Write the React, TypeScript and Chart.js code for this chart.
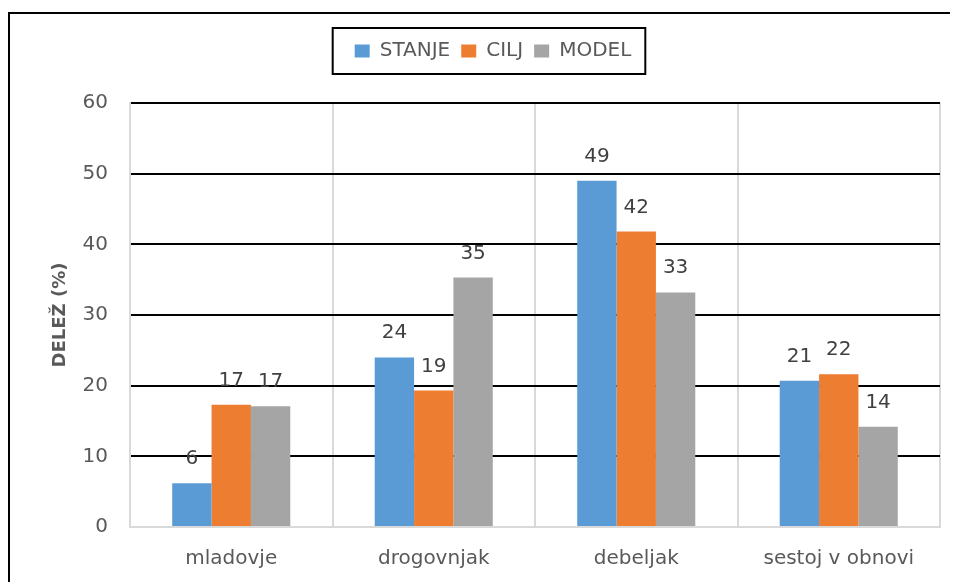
import React, { useEffect, useRef } from "react";
import { Chart, registerables } from "chart.js";

Chart.register(...registerables);

const categories = ["mladovje", "drogovnjak", "debeljak", "sestoj v obnovi"];
const seriesNames = ["STANJE", "CILJ", "MODEL"];
const stanje = [6.2, 24.0, 49.0, 20.7];
const cilj = [17.3, 19.3, 41.8, 21.6];
const model = [17.1, 35.3, 33.2, 14.2];
const seriesColors = ["#5B9BD5", "#ED7D31", "#A5A5A5"];
const yTicks = [0, 10, 20, 30, 40, 50, 60];
const yTitle = "DELEŽ (%)";

const FONT = "'DejaVu Sans', sans-serif";

const legendMargin = {
  id: "legendMargin",
  beforeLayout(chart: any) {
    const legend = chart.legend;
    if (legend && !legend._patchedFit) {
      const fit = legend.fit;
      legend.fit = function () {
        fit.call(this);
        this.height += 32;
      };
      legend._patchedFit = true;
    }
  },
};

const dataLabels = {
  id: "dataLabels",
  afterDatasetsDraw(chart: any) {
    const ctx = chart.ctx;
    ctx.save();
    ctx.font = `20px ${FONT}`;
    ctx.fillStyle = "#404040";
    ctx.textAlign = "center";
    ctx.textBaseline = "alphabetic";
    chart.data.datasets.forEach((ds: any, i: number) => {
      const meta = chart.getDatasetMeta(i);
      meta.data.forEach((bar: any, j: number) => {
        const v = ds.data[j];
        ctx.fillText(String(Math.round(v)), bar.x, bar.y - 19);
      });
    });
    ctx.restore();
  },
};

const frames = {
  id: "frames",
  afterDraw(chart: any) {
    const ctx = chart.ctx;
    ctx.save();
    ctx.strokeStyle = "#000";
    ctx.lineWidth = 2;
    const lg = chart.legend;
    const hb = lg && lg.legendHitBoxes;
    if (hb && hb.length) {
      const first = hb[0];
      const last = hb[hb.length - 1];
      const cy = first.top + first.height / 2;
      const x0 = first.left - 22;
      const x1 = last.left + last.width + 14;
      ctx.strokeRect(x0, cy - 23, x1 - x0, 46);
    }
    ctx.beginPath();
    ctx.moveTo(1, chart.height + 10);
    ctx.lineTo(1, 5);
    ctx.lineTo(chart.width + 10, 5);
    ctx.stroke();
    ctx.restore();
  },
};

export default function App() {
  const ref = useRef<HTMLCanvasElement | null>(null);

  useEffect(() => {
    document.documentElement.style.overflow = "hidden";
    document.body.style.overflow = "hidden";
    if (!ref.current) return;
    Chart.defaults.font.family = FONT;
    const seriesData = [stanje, cilj, model];
    const chart = new Chart(ref.current, {
      type: "bar",
      data: {
        labels: categories,
        datasets: seriesNames.map((name, i) => ({
          label: name,
          data: seriesData[i],
          backgroundColor: seriesColors[i],
          borderWidth: 0,
          categoryPercentage: 0.583,
          barPercentage: 1.0,
        })),
      },
      options: {
        animation: false,
        responsive: true,
        maintainAspectRatio: false,
        layout: { padding: { top: 22, left: 38, right: 18, bottom: 0 } },
        plugins: {
          tooltip: { enabled: false },
          legend: {
            display: true,
            position: "top",
            labels: {
              boxWidth: 15,
              boxHeight: 13,
              padding: 11,
              color: "#595959",
              font: { size: 20, family: FONT },
            },
          },
        },
        scales: {
          x: {
            grid: { color: "#d9d9d9", lineWidth: 2, drawTicks: false, offset: true },
            border: { color: "#d9d9d9", width: 2 },
            ticks: { color: "#595959", font: { size: 20, family: FONT }, padding: 20 },
            afterFit(scale: any) {
              scale.height = 55;
            },
          },
          y: {
            min: 0,
            max: 60,
            afterBuildTicks(scale: any) {
              scale.ticks = yTicks.map((v) => ({ value: v }));
            },
            ticks: { color: "#595959", font: { size: 20, family: FONT }, padding: 22 },
            grid: {
              color: (c: any) => (c.tick && c.tick.value === 0 ? "#d9d9d9" : "#000000"),
              lineWidth: 2,
              drawTicks: false,
            },
            border: { color: "#d9d9d9", width: 2 },
            title: {
              display: true,
              text: yTitle,
              color: "#595959",
              font: { size: 18, weight: "bold", family: FONT },
              padding: { top: 4, bottom: 0 },
            },
            afterFit(scale: any) {
              scale.width = 84;
            },
          },
        },
      },
      plugins: [legendMargin, dataLabels, frames],
    } as any);
    return () => chart.destroy();
  }, []);

  return (
    <div style={{ position: "relative", width: 950, height: 574, marginRight: -8 }}>
      <canvas ref={ref} />
    </div>
  );
}
